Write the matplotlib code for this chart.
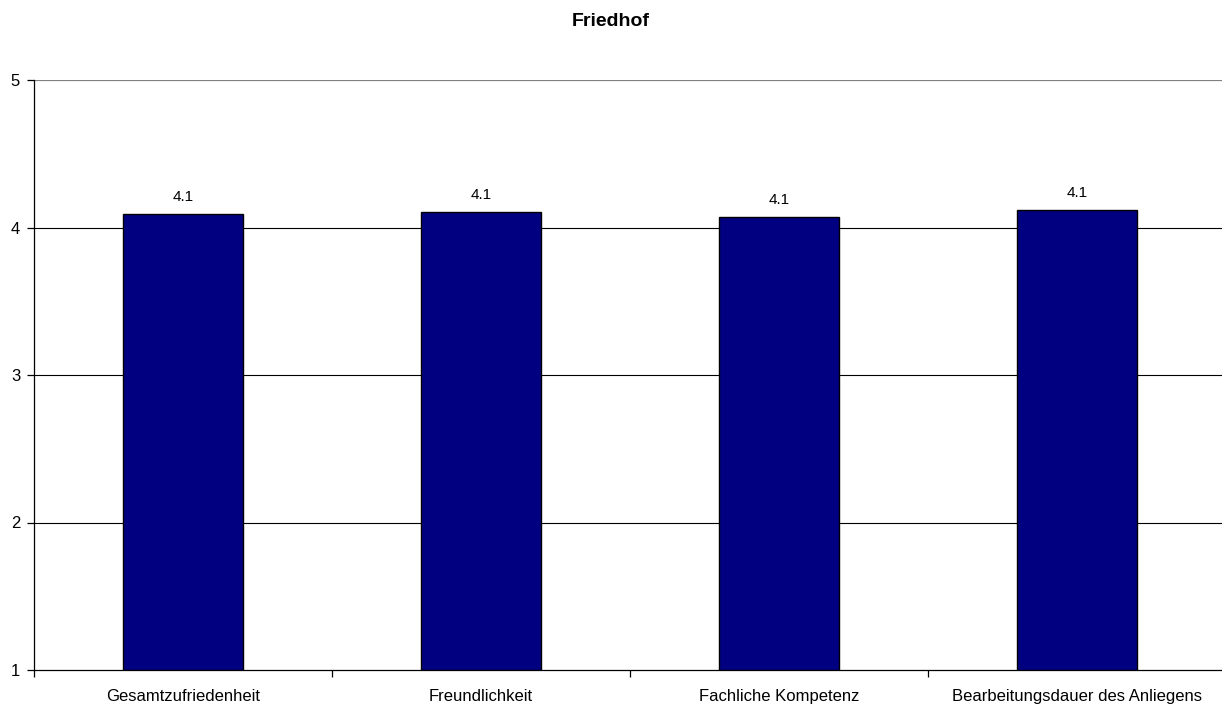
import matplotlib
matplotlib.use("Agg")
import matplotlib.pyplot as plt
import numpy as np

plt.rcParams["font.family"] = ["Liberation Sans", "DejaVu Sans"]

title = "Friedhof"
categories = ["Gesamtzufriedenheit", "Freundlichkeit", "Fachliche Kompetenz",
              "Bearbeitungsdauer des Anliegens"]
values = [4.094, 4.105, 4.073, 4.119]
labels = ["4.1", "4.1", "4.1", "4.1"]
y_ticks = [1, 2, 3, 4, 5]

W, H = 1222, 706
fig = plt.figure(figsize=(W / 100, H / 100), dpi=100)
ax = fig.add_axes([34 / W, 36 / H, 1192 / W, 590 / H])

x = np.arange(len(categories))
bars = ax.bar(x, np.array(values) - 1, bottom=1, width=0.40,
              color="#000080", edgecolor="black", linewidth=1.0, zorder=3)

for xi, v, lab in zip(x, values, labels):
    ax.annotate(lab, (xi, v), xytext=(0, 10), textcoords="offset pixels",
                ha="center", va="bottom", fontsize=11, color="black")

ax.set_xlim(-0.5, len(categories) - 0.5)
ax.set_ylim(1, 5)

# horizontal gridlines
for yv in y_ticks[1:-1]:
    ax.axhline(yv, color="black", linewidth=0.8, zorder=1)
ax.axhline(5, color="#808080", linewidth=1.6, zorder=1)

for s in ["top", "right"]:
    ax.spines[s].set_visible(False)
ax.spines["left"].set_linewidth(0.9)
ax.spines["bottom"].set_linewidth(0.9)

ax.set_yticks(y_ticks)
ax.set_yticklabels([str(t) for t in y_ticks], fontsize=12)
ax.tick_params(axis="y", length=5, width=0.9, pad=5)

# category boundaries as tick marks, names centred under each bar
ax.set_xticks(np.arange(-0.5, len(categories), 1.0))
ax.set_xticklabels([])
ax.tick_params(axis="x", length=5, width=0.9)
ax.set_xticks(x, minor=True)
ax.set_xticklabels(categories, minor=True, fontsize=12)
ax.tick_params(axis="x", which="minor", length=0, pad=14)

fig.text(611 / W, 1 - 21 / H, title, ha="center", va="center",
         fontsize=14, fontweight="bold")

fig.savefig("out.png", dpi=100)
